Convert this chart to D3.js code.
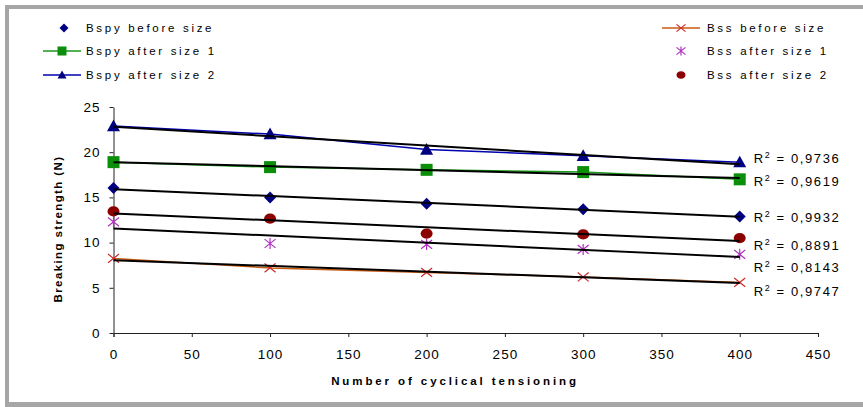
<!DOCTYPE html>
<meta charset="utf-8">
<script src="https://d3js.org/d3.v7.min.js"></script>
<style>
  body { margin: 0; background: #fff; }
  text { font-family: "Liberation Sans", Arial, sans-serif; fill: #000; }
</style>
<div id="chart"></div>
<script>
// data
var cycles = [0, 100, 200, 300, 400];
var bspyBefore = [16.05, 15.0, 14.3, 13.7, 12.9];
var bspyAfter1 = [18.9, 18.35, 18.05, 17.8, 17.0];
var bspyAfter2 = [22.9, 22.0, 20.3, 19.6, 18.9];
var bssBefore  = [8.25, 7.2, 6.7, 6.2, 5.6];
var bssAfter1  = [12.3, 9.9, 9.8, 9.25, 8.7];
var bssAfter2  = [13.45, 12.65, 11.0, 10.9, 10.5];

var seriesNames = ["Bspy before size", "Bspy after size 1", "Bspy after size 2",
                   "Bss before size", "Bss after size 1", "Bss after size 2"];
var r2Values = ["0,9932", "0,9619", "0,9736", "0,9747", "0,8143", "0,8891"];
var xTicks = [0, 50, 100, 150, 200, 250, 300, 350, 400, 450];
var yTicks = [0, 5, 10, 15, 20, 25];

// look of each series
var styles = [
  { marker: "diamond",  color: "#000080", line: null },
  { marker: "square",   color: "#0b8f0b", line: "#1a9a1a" },
  { marker: "triangle", color: "#000080", line: "#0000b0" },
  { marker: "x",        color: "#cc2a2a", line: "#c85a10" },
  { marker: "star",     color: "#b030c0", line: null },
  { marker: "circle",   color: "#8b0000", line: null }
];
var seriesValues = [bspyBefore, bspyAfter1, bspyAfter2, bssBefore, bssAfter1, bssAfter2];
// small nudges of the R² labels so they don't overlap
var r2Nudge = [0, 3, -6, 8, 10, 4];

var width = 863, height = 407;

var svg = d3.select("#chart").append("svg")
    .attr("width", width)
    .attr("height", height);

// grey frame
svg.append("rect").attr("x", 5).attr("y", 5).attr("width", 858).attr("height", 4).attr("fill", "#a6a6a6");
svg.append("rect").attr("x", 5).attr("y", 5).attr("width", 4).attr("height", 402).attr("fill", "#a6a6a6");
svg.append("rect").attr("x", 5).attr("y", 402).attr("width", 858).attr("height", 5).attr("fill", "#a6a6a6");

var x = d3.scaleLinear().domain([0, 450]).range([113.5, 818]);
var y = d3.scaleLinear().domain([0, 25]).range([333, 107]);

// axes
var xAxis = svg.append("g")
    .attr("transform", "translate(0," + y(0) + ")")
    .call(d3.axisBottom(x).tickValues(xTicks).tickSize(4).tickPadding(12).tickSizeOuter(4));
var yAxis = svg.append("g")
    .attr("transform", "translate(" + x(0) + ",0)")
    .call(d3.axisLeft(y).tickValues(yTicks).tickSize(4).tickPadding(9).tickSizeOuter(0));

[xAxis, yAxis].forEach(function(a) {
  a.select(".domain").attr("stroke", "#222");
  a.selectAll(".tick line").attr("stroke", "#222");
  a.selectAll(".tick text")
    .style("font-family", '"Liberation Sans", Arial, sans-serif')
    .style("font-size", "13.5px")
    .style("letter-spacing", "1px")
    .attr("fill", "#000");
});

// axis titles
svg.append("text")
    .attr("x", 455).attr("y", 385)
    .attr("text-anchor", "middle")
    .style("font-size", "11.5px").style("font-weight", "bold").style("letter-spacing", "2.9px")
    .text("Number of cyclical tensioning");

svg.append("text")
    .attr("transform", "translate(62,229) rotate(-90)")
    .attr("text-anchor", "middle")
    .style("font-size", "11.5px").style("font-weight", "bold").style("letter-spacing", "1.4px")
    .text("Breaking strength (N)");

// marker shapes
function drawMarker(g, type, cx, cy, s, color) {
  var h = s / 2;
  if (type === "diamond") {
    g.append("path").attr("d", "M" + cx + "," + (cy - h) + "L" + (cx + h) + "," + cy + "L" + cx + "," + (cy + h) + "L" + (cx - h) + "," + cy + "Z")
      .attr("fill", color);
  } else if (type === "square") {
    g.append("rect").attr("x", cx - h).attr("y", cy - h).attr("width", s).attr("height", s).attr("fill", color);
  } else if (type === "triangle") {
    g.append("path").attr("d", "M" + cx + "," + (cy - h) + "L" + (cx + h) + "," + (cy + h * 0.8) + "L" + (cx - h) + "," + (cy + h * 0.8) + "Z")
      .attr("fill", color);
  } else if (type === "circle") {
    g.append("ellipse").attr("cx", cx).attr("cy", cy).attr("rx", h).attr("ry", h * 0.85).attr("fill", color);
  } else if (type === "x") {
    g.append("path").attr("d", "M" + (cx - h) + "," + (cy - h * 0.8) + "L" + (cx + h) + "," + (cy + h * 0.8) + "M" + (cx + h) + "," + (cy - h * 0.8) + "L" + (cx - h) + "," + (cy + h * 0.8))
      .attr("stroke", color).attr("stroke-width", 1.2).attr("fill", "none");
  } else if (type === "star") {
    g.append("path").attr("d", "M" + (cx - h) + "," + (cy - h * 0.8) + "L" + (cx + h) + "," + (cy + h * 0.8) + "M" + (cx + h) + "," + (cy - h * 0.8) + "L" + (cx - h) + "," + (cy + h * 0.8) + "M" + cx + "," + (cy - h) + "L" + cx + "," + (cy + h))
      .attr("stroke", color).attr("stroke-width", 1.2).attr("fill", "none");
  }
}

var markerSize = { diamond: 12, square: 12, triangle: 13, circle: 12, x: 11, star: 11 };

var plot = svg.append("g");
var lineGen = d3.line().x(function(d, i) { return x(cycles[i]); }).y(function(d) { return y(d); });

// series lines
seriesValues.forEach(function(vals, k) {
  if (!styles[k].line) return;
  plot.append("path").datum(vals)
    .attr("d", lineGen)
    .attr("fill", "none")
    .attr("stroke", styles[k].line)
    .attr("stroke-width", 1.5);
});

// markers
seriesValues.forEach(function(vals, k) {
  var g = plot.append("g");
  vals.forEach(function(v, i) {
    drawMarker(g, styles[k].marker, x(cycles[i]), y(v), markerSize[styles[k].marker], styles[k].color);
  });
});

// linear trendlines + R² labels
seriesValues.forEach(function(vals, k) {
  var mx = d3.mean(cycles), my = d3.mean(vals);
  var num = d3.sum(cycles, function(c, i) { return (c - mx) * (vals[i] - my); });
  var den = d3.sum(cycles, function(c) { return (c - mx) * (c - mx); });
  var slope = num / den, icpt = my - slope * mx;
  var x0 = cycles[0], x1 = cycles[cycles.length - 1];
  plot.append("line")
    .attr("x1", x(x0)).attr("y1", y(icpt + slope * x0))
    .attr("x2", x(x1)).attr("y2", y(icpt + slope * x1))
    .attr("stroke", "#000").attr("stroke-width", 2);

  var t = svg.append("text")
    .attr("x", x(x1) + 14)
    .attr("y", y(icpt + slope * x1) + r2Nudge[k] + 5)
    .style("font-size", "13px").style("letter-spacing", "1.6px");
  t.append("tspan").text("R");
  t.append("tspan").attr("dy", -5).style("font-size", "9px").text("2");
  t.append("tspan").attr("dy", 5).text(" = " + r2Values[k]);
});

// legend
var legendPos = [
  { lx: 43, mx: 64, tx: 86, y: 28 }, { lx: 43, mx: 62, tx: 86, y: 51 }, { lx: 43, mx: 62, tx: 86, y: 75 },
  { lx: 662, mx: 681, tx: 707, y: 28 }, { lx: 662, mx: 681, tx: 707, y: 51 }, { lx: 662, mx: 681, tx: 707, y: 75 }
];
var legend = svg.append("g");
seriesNames.forEach(function(name, k) {
  var p = legendPos[k];
  if (styles[k].line) {
    legend.append("line").attr("x1", p.lx).attr("x2", p.lx + 38).attr("y1", p.y).attr("y2", p.y)
      .attr("stroke", styles[k].line).attr("stroke-width", 1.5);
  }
  drawMarker(legend, styles[k].marker, p.mx, p.y, 9, styles[k].color);
  legend.append("text")
    .attr("x", p.tx).attr("y", p.y + 4)
    .style("font-size", "11.5px").style("letter-spacing", "2.7px")
    .text(name);
});
</script>
